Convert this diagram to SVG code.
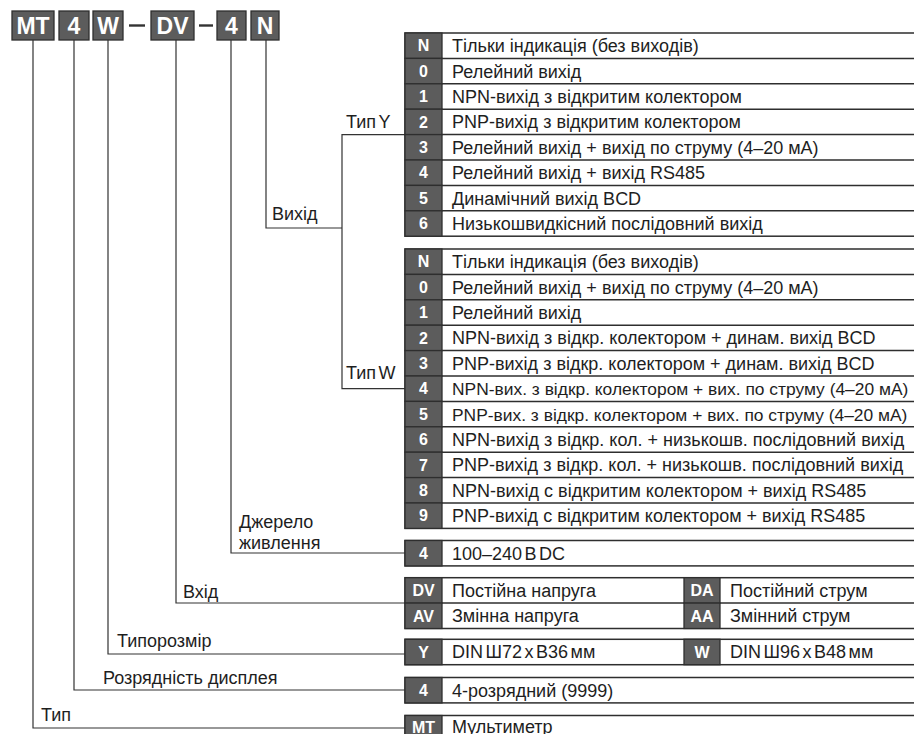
<svg xmlns="http://www.w3.org/2000/svg" width="914" height="734" viewBox="0 0 914 734">
  <style>
    .box { fill: #5c5c5c; stroke: #2e2e2e; stroke-width: 1.3; }
    .cell { fill: #ffffff; stroke: #2e2e2e; stroke-width: 1.5; }
    .sep { stroke: #2e2e2e; stroke-width: 1.5; }
    .hdr { font-family: "Liberation Sans", Arial, sans-serif; font-weight: bold; font-size: 23px; fill: #ffffff; text-anchor: middle; }
    .ct { font-family: "Liberation Sans", Arial, sans-serif; font-weight: bold; font-size: 16px; fill: #ffffff; text-anchor: middle; }
    .dt { font-family: "Liberation Sans", Arial, sans-serif; font-size: 18px; fill: #1e1e1e; }
    .dt.long { font-size: 17.4px; }
    .lbl { font-family: "Liberation Sans", Arial, sans-serif; font-size: 18px; fill: #1e1e1e; }
    .tight { word-spacing: -2.5px; }
    .wire { fill: none; stroke: #333333; stroke-width: 1.2; }
    .dash { stroke: #333333; stroke-width: 2.4; }
  </style>

  <!-- Order code header -->
  <g id="code-MT"><rect class="box" x="12" y="11" width="42" height="29"/><text class="hdr" x="33" y="33.7">MT</text></g>
  <g id="code-digits"><rect class="box" x="59" y="11" width="30" height="29"/><text class="hdr" x="74" y="33.7">4</text></g>
  <g id="code-size"><rect class="box" x="93" y="11" width="30" height="29"/><text class="hdr" x="108" y="33.7">W</text></g>
  <line class="dash" x1="129" y1="25.5" x2="145" y2="25.5"/>
  <g id="code-input"><rect class="box" x="151" y="11" width="43" height="29"/><text class="hdr" x="172.5" y="33.7">DV</text></g>
  <line class="dash" x1="199" y1="25.5" x2="213" y2="25.5"/>
  <g id="code-power"><rect class="box" x="217" y="11" width="29" height="29"/><text class="hdr" x="231.5" y="33.7">4</text></g>
  <g id="code-output"><rect class="box" x="251" y="11" width="28" height="29"/><text class="hdr" x="265" y="33.7">N</text></g>

  <!-- Connectors with their captions -->
  <g id="connectors">
    <polyline class="wire" points="266,40 266,228 342,228"/>
    <polyline class="wire" points="405,134.6 342,134.6 342,388.7 405,388.7"/>
    <polyline class="wire" points="231,40 231,553 405,553"/>
    <polyline class="wire" points="176,40 176,603 405,603"/>
    <polyline class="wire" points="108,40 108,654 405,654"/>
    <polyline class="wire" points="74,40 74,690 405,690"/>
    <polyline class="wire" points="33,40 33,728 405,728"/>
    <text class="lbl" x="272" y="220">Вихід</text>
    <text class="lbl tight" x="346" y="128">Тип Y</text>
    <text class="lbl tight" x="346" y="379">Тип W</text>
    <text class="lbl" x="239" y="528">Джерело</text>
    <text class="lbl" x="239" y="549">живлення</text>
    <text class="lbl" x="183" y="598">Вхід</text>
    <text class="lbl" x="117" y="647">Типорозмір</text>
    <text class="lbl" x="103" y="684">Розрядність дисплея</text>
    <text class="lbl" x="41" y="721">Тип</text>
  </g>

  <!-- Output options, size Y -->
  <g id="table-output-Y">
    <rect class="cell" x="405" y="33" width="512" height="203.2"/>
    <g>
      <rect class="box" x="405" y="33" width="37" height="25.4"/>
      <rect class="box" x="405" y="58.4" width="37" height="25.4"/>
      <rect class="box" x="405" y="83.8" width="37" height="25.4"/>
      <rect class="box" x="405" y="109.2" width="37" height="25.4"/>
      <rect class="box" x="405" y="134.6" width="37" height="25.4"/>
      <rect class="box" x="405" y="160" width="37" height="25.4"/>
      <rect class="box" x="405" y="185.4" width="37" height="25.4"/>
      <rect class="box" x="405" y="210.8" width="37" height="25.4"/>
    </g>
    <g class="sep">
      <line x1="442" y1="58.4" x2="914" y2="58.4"/>
      <line x1="442" y1="83.8" x2="914" y2="83.8"/>
      <line x1="442" y1="109.2" x2="914" y2="109.2"/>
      <line x1="442" y1="134.6" x2="914" y2="134.6"/>
      <line x1="442" y1="160" x2="914" y2="160"/>
      <line x1="442" y1="185.4" x2="914" y2="185.4"/>
      <line x1="442" y1="210.8" x2="914" y2="210.8"/>
    </g>
    <text class="ct" x="423.5" y="51.4">N</text>
    <text class="ct" x="423.5" y="76.8">0</text>
    <text class="ct" x="423.5" y="102.2">1</text>
    <text class="ct" x="423.5" y="127.6">2</text>
    <text class="ct" x="423.5" y="153">3</text>
    <text class="ct" x="423.5" y="178.4">4</text>
    <text class="ct" x="423.5" y="203.8">5</text>
    <text class="ct" x="423.5" y="229.2">6</text>
    <text class="dt" x="452" y="52.1">Тільки індикація (без виходів)</text>
    <text class="dt" x="452" y="77.5">Релейний вихід</text>
    <text class="dt" x="452" y="102.9">NPN-вихід з відкритим колектором</text>
    <text class="dt" x="452" y="128.3">PNP-вихід з відкритим колектором</text>
    <text class="dt" x="452" y="153.7">Релейний вихід + вихід по струму (4–20 мА)</text>
    <text class="dt" x="452" y="179.1">Релейний вихід + вихід RS485</text>
    <text class="dt" x="452" y="204.5">Динамічний вихід BCD</text>
    <text class="dt" x="452" y="229.9">Низькошвидкісний послідовний вихід</text>
  </g>

  <!-- Output options, size W -->
  <g id="table-output-W">
    <rect class="cell" x="405" y="249" width="512" height="279.4"/>
    <g>
      <rect class="box" x="405" y="249" width="37" height="25.4"/>
      <rect class="box" x="405" y="274.4" width="37" height="25.4"/>
      <rect class="box" x="405" y="299.8" width="37" height="25.4"/>
      <rect class="box" x="405" y="325.2" width="37" height="25.4"/>
      <rect class="box" x="405" y="350.6" width="37" height="25.4"/>
      <rect class="box" x="405" y="376" width="37" height="25.4"/>
      <rect class="box" x="405" y="401.4" width="37" height="25.4"/>
      <rect class="box" x="405" y="426.8" width="37" height="25.4"/>
      <rect class="box" x="405" y="452.2" width="37" height="25.4"/>
      <rect class="box" x="405" y="477.6" width="37" height="25.4"/>
      <rect class="box" x="405" y="503" width="37" height="25.4"/>
    </g>
    <g class="sep">
      <line x1="442" y1="274.4" x2="914" y2="274.4"/>
      <line x1="442" y1="299.8" x2="914" y2="299.8"/>
      <line x1="442" y1="325.2" x2="914" y2="325.2"/>
      <line x1="442" y1="350.6" x2="914" y2="350.6"/>
      <line x1="442" y1="376" x2="914" y2="376"/>
      <line x1="442" y1="401.4" x2="914" y2="401.4"/>
      <line x1="442" y1="426.8" x2="914" y2="426.8"/>
      <line x1="442" y1="452.2" x2="914" y2="452.2"/>
      <line x1="442" y1="477.6" x2="914" y2="477.6"/>
      <line x1="442" y1="503" x2="914" y2="503"/>
    </g>
    <text class="ct" x="423.5" y="267.4">N</text>
    <text class="ct" x="423.5" y="292.8">0</text>
    <text class="ct" x="423.5" y="318.2">1</text>
    <text class="ct" x="423.5" y="343.6">2</text>
    <text class="ct" x="423.5" y="369">3</text>
    <text class="ct" x="423.5" y="394.4">4</text>
    <text class="ct" x="423.5" y="419.8">5</text>
    <text class="ct" x="423.5" y="445.2">6</text>
    <text class="ct" x="423.5" y="470.6">7</text>
    <text class="ct" x="423.5" y="496">8</text>
    <text class="ct" x="423.5" y="521.4">9</text>
    <text class="dt" x="452" y="268.1">Тільки індикація (без виходів)</text>
    <text class="dt" x="452" y="293.5">Релейний вихід + вихід по струму (4–20 мА)</text>
    <text class="dt" x="452" y="318.9">Релейний вихід</text>
    <text class="dt" x="452" y="344.3">NPN-вихід з відкр. колектором + динам. вихід BCD</text>
    <text class="dt" x="452" y="369.7">PNP-вихід з відкр. колектором + динам. вихід BCD</text>
    <text class="dt long" x="452" y="395.1">NPN-вих. з відкр. колектором + вих. по струму (4–20 мА)</text>
    <text class="dt long" x="452" y="420.5">PNP-вих. з відкр. колектором + вих. по струму (4–20 мА)</text>
    <text class="dt" x="452" y="445.9">NPN-вихід з відкр. кол. + низькошв. послідовний вихід</text>
    <text class="dt" x="452" y="471.3">PNP-вихід з відкр. кол. + низькошв. послідовний вихід</text>
    <text class="dt" x="452" y="496.7">NPN-вихід с відкритим колектором + вихід RS485</text>
    <text class="dt" x="452" y="522.1">PNP-вихід с відкритим колектором + вихід RS485</text>
  </g>

  <!-- Power supply -->
  <g id="table-power">
    <rect class="cell" x="405" y="540.5" width="512" height="25.4"/>
    <rect class="box" x="405" y="540.5" width="37" height="25.4"/>
    <text class="ct" x="423.5" y="558.9">4</text>
    <text class="dt tight" x="452" y="559.6">100–240 В DC</text>
  </g>

  <!-- Input -->
  <g id="table-input">
    <rect class="cell" x="405" y="577.7" width="512" height="50.8"/>
    <line class="sep" x1="442" y1="603.1" x2="914" y2="603.1"/>
    <rect class="box" x="405" y="577.7" width="37" height="25.4"/>
    <rect class="box" x="405" y="603.1" width="37" height="25.4"/>
    <rect class="box" x="684" y="577.7" width="36" height="25.4"/>
    <rect class="box" x="684" y="603.1" width="36" height="25.4"/>
    <text class="ct" x="423.5" y="596.1">DV</text>
    <text class="ct" x="423.5" y="621.5">AV</text>
    <text class="ct" x="702" y="596.1">DA</text>
    <text class="ct" x="702" y="621.5">AA</text>
    <text class="dt" x="452" y="596.8">Постійна напруга</text>
    <text class="dt" x="452" y="622.2">Змінна напруга</text>
    <text class="dt" x="730" y="596.8">Постійний струм</text>
    <text class="dt" x="730" y="622.2">Змінний струм</text>
  </g>

  <!-- Case size -->
  <g id="table-size">
    <rect class="cell" x="405" y="639.3" width="512" height="25.4"/>
    <rect class="box" x="405" y="639.3" width="37" height="25.4"/>
    <rect class="box" x="684" y="639.3" width="36" height="25.4"/>
    <text class="ct" x="423.5" y="657.7">Y</text>
    <text class="ct" x="702" y="657.7">W</text>
    <text class="dt tight" x="452" y="658.4">DIN Ш72 x В36 мм</text>
    <text class="dt tight" x="730" y="658.4">DIN Ш96 x В48 мм</text>
  </g>

  <!-- Display digits -->
  <g id="table-digits">
    <rect class="cell" x="405" y="677.5" width="512" height="25.4"/>
    <rect class="box" x="405" y="677.5" width="37" height="25.4"/>
    <text class="ct" x="423.5" y="695.9">4</text>
    <text class="dt" x="452" y="696.6">4-розрядний (9999)</text>
  </g>

  <!-- Device type -->
  <g id="table-type">
    <rect class="cell" x="405" y="715.5" width="512" height="25.4"/>
    <rect class="box" x="405" y="715.5" width="37" height="25.4"/>
    <text class="ct" x="423.5" y="733">MT</text>
    <text class="dt" x="452" y="733">Мультиметр</text>
  </g>
</svg>
